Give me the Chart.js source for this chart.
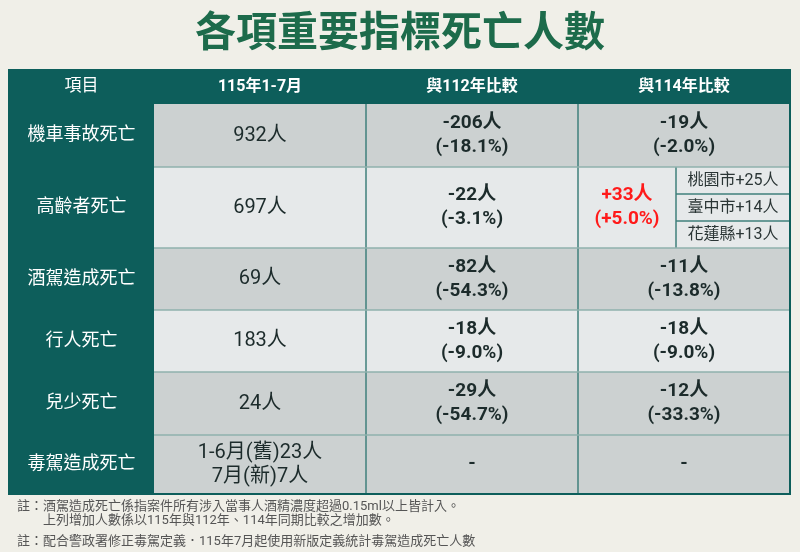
<!DOCTYPE html>
<html><head><meta charset="utf-8">
<script src="https://cdn.jsdelivr.net/npm/chart.js@4"></script>
<style>html,body{margin:0;background:#f0efe8}canvas{display:block}</style>
</head><body>
<div style="width:800px;height:552px"><canvas id="c"></canvas></div>
<script>
// 資料
const title = '各項重要指標死亡人數';
const headers = ['項目', '115年1-7月', '與112年比較', '與114年比較'];
const items = ['機車事故死亡', '高齡者死亡', '酒駕造成死亡', '行人死亡', '兒少死亡', '毒駕造成死亡'];
const current = ['932人', '697人', '69人', '183人', '24人', '1-6月(舊)23人\n7月(新)7人'];
const diff112 = [-206, -22, -82, -18, -29, null];
const pct112 = [-18.1, -3.1, -54.3, -9.0, -54.7, null];
const diff114 = [-19, 33, -11, -18, -12, null];
const pct114 = [-2.0, 5.0, -13.8, -9.0, -33.3, null];
const cities = ['桃園市', '臺中市', '花蓮縣'];
const cityDelta = [25, 14, 13];
const notes = [
  '註：酒駕造成死亡係指案件所有涉入當事人酒精濃度超過0.15ml以上皆計入。',
  '　　上列增加人數係以115年與112年、114年同期比較之增加數。',
  '註：配合警政署修正毒駕定義．115年7月起使用新版定義統計毒駕造成死亡人數'
];
// 表格格線（軸單位）
const colEdges = [0, 145, 357, 569, 781];
const rowEdges = [0, 34, 97, 178, 240, 302, 365, 424];

const FONT = 'Roboto, "Noto Sans CJK TC", sans-serif';
const fmtSigned = v => (v > 0 ? '+' : '') + v;
const fmtPct = v => '(' + (v > 0 ? '+' : '') + v.toFixed(1) + '%)';

const tablePlugin = {
  id: 'table',
  beforeDatasetsDraw(chart) {
    const ctx = chart.ctx, xs = chart.scales.x, ys = chart.scales.y;
    const X = v => xs.getPixelForValue(v), Y = v => ys.getPixelForValue(v);
    ctx.save();
    ctx.textAlign = 'center';
    ctx.textBaseline = 'middle';
    // 標題
    ctx.fillStyle = '#1d6b4b';
    ctx.font = 'bold 41px ' + FONT;
    ctx.fillText(title, 400, 36);

    const cell = (c0, c1, r0, r1, bg) => {
      ctx.fillStyle = bg;
      ctx.fillRect(X(c0), Y(r0), X(c1) - X(c0), Y(r1) - Y(r0));
    };
    const text = (lines, cx, cy, font, color, lh) => {
      ctx.font = font; ctx.fillStyle = color;
      lines.forEach((t, i) => ctx.fillText(t, cx, cy + (i - (lines.length - 1) / 2) * lh));
    };
    // 表頭
    cell(0, 781, 0, 34, '#0d5e5b');
    headers.forEach((h, i) => text([h], (X(colEdges[i]) + X(colEdges[i + 1])) / 2, (Y(0) + Y(34)) / 2,
      (i === 0 ? '17px ' : 'bold 16px ') + FONT, '#ffffff', 0));
    // 資料列
    items.forEach((name, r) => {
      const r0 = rowEdges[r + 1], r1 = rowEdges[r + 2];
      const cy = (Y(r0) + Y(r1)) / 2;
      const bg = (r === 1 || r === 3) ? '#e6e9ea' : '#ccd1d1';
      cell(0, 145, r0, r1, '#0d5e5b');
      cell(145, 781, r0, r1, bg);
      const cx = i => (X(colEdges[i]) + X(colEdges[i + 1])) / 2;
      text([name], cx(0), cy, '18px ' + FONT, '#ffffff', 0);
      text(current[r].split('\n'), cx(1), cy, '20px ' + FONT, '#1c2b2b', 24);
      if (diff112[r] === null) {
        text(['-'], cx(2), cy, 'bold 19px ' + FONT, '#1c2b2b', 0);
        text(['-'], cx(3), cy, 'bold 19px ' + FONT, '#1c2b2b', 0);
        return;
      }
      text([fmtSigned(diff112[r]) + '人', fmtPct(pct112[r])], cx(2), cy, 'bold 19px ' + FONT, '#1c2b2b', 24);
      if (diff114[r] > 0) {
        const split = 667;
        text([fmtSigned(diff114[r]) + '人', fmtPct(pct114[r])], (X(569) + X(split)) / 2, cy, 'bold 19px ' + FONT, '#ff1a1a', 24);
        const h = (r1 - r0) / cities.length;
        ctx.strokeStyle = '#3f7f7b'; ctx.lineWidth = 1.5;
        ctx.beginPath(); ctx.moveTo(X(split), Y(r0)); ctx.lineTo(X(split), Y(r1)); ctx.stroke();
        cities.forEach((c, k) => {
          const a = r0 + h * k, b = a + h;
          if (k > 0) { ctx.beginPath(); ctx.moveTo(X(split), Y(a)); ctx.lineTo(X(781), Y(a)); ctx.stroke(); }
          text([c + '+' + cityDelta[k] + '人'], (X(split) + X(781)) / 2, (Y(a) + Y(b)) / 2, '16px ' + FONT, '#2a3535', 0);
        });
      } else {
        text([fmtSigned(diff114[r]) + '人', fmtPct(pct114[r])], cx(3), cy, 'bold 19px ' + FONT, '#1c2b2b', 24);
      }
    });
    // 格線
    ctx.strokeStyle = '#3f7f7b'; ctx.lineWidth = 1.5;
    for (let i = 2; i < colEdges.length - 1; i++) {
      ctx.beginPath(); ctx.moveTo(X(colEdges[i]), Y(34)); ctx.lineTo(X(colEdges[i]), Y(424)); ctx.stroke();
    }
    ctx.strokeStyle = '#8fb0ad';
    for (let r = 2; r < rowEdges.length - 1; r++) {
      ctx.beginPath(); ctx.moveTo(X(145), Y(rowEdges[r])); ctx.lineTo(X(781), Y(rowEdges[r])); ctx.stroke();
    }
    ctx.strokeStyle = '#0d5e5b'; ctx.lineWidth = 2;
    ctx.strokeRect(X(0), Y(0), X(781) - X(0), Y(424) - Y(0));
    // 註
    ctx.textAlign = 'left';
    ctx.font = '13px ' + FONT; ctx.fillStyle = '#555';
    ctx.fillText(notes[0], 17, 507);
    ctx.fillText(notes[1], 17, 521);
    ctx.fillText(notes[2], 17, 542);
    ctx.restore();
  }
};

new Chart(document.getElementById('c'), {
  type: 'scatter',
  data: { datasets: [{ data: [] }] },
  options: {
    responsive: true,
    maintainAspectRatio: false,
    animation: false,
    layout: { padding: { left: 9, right: 10, top: 70, bottom: 58 } },
    plugins: { legend: { display: false }, tooltip: { enabled: false } },
    scales: {
      x: { type: 'linear', min: 0, max: 781, display: false },
      y: { type: 'linear', min: 0, max: 424, reverse: true, display: false }
    }
  },
  plugins: [tablePlugin]
});
</script>
</body></html>
